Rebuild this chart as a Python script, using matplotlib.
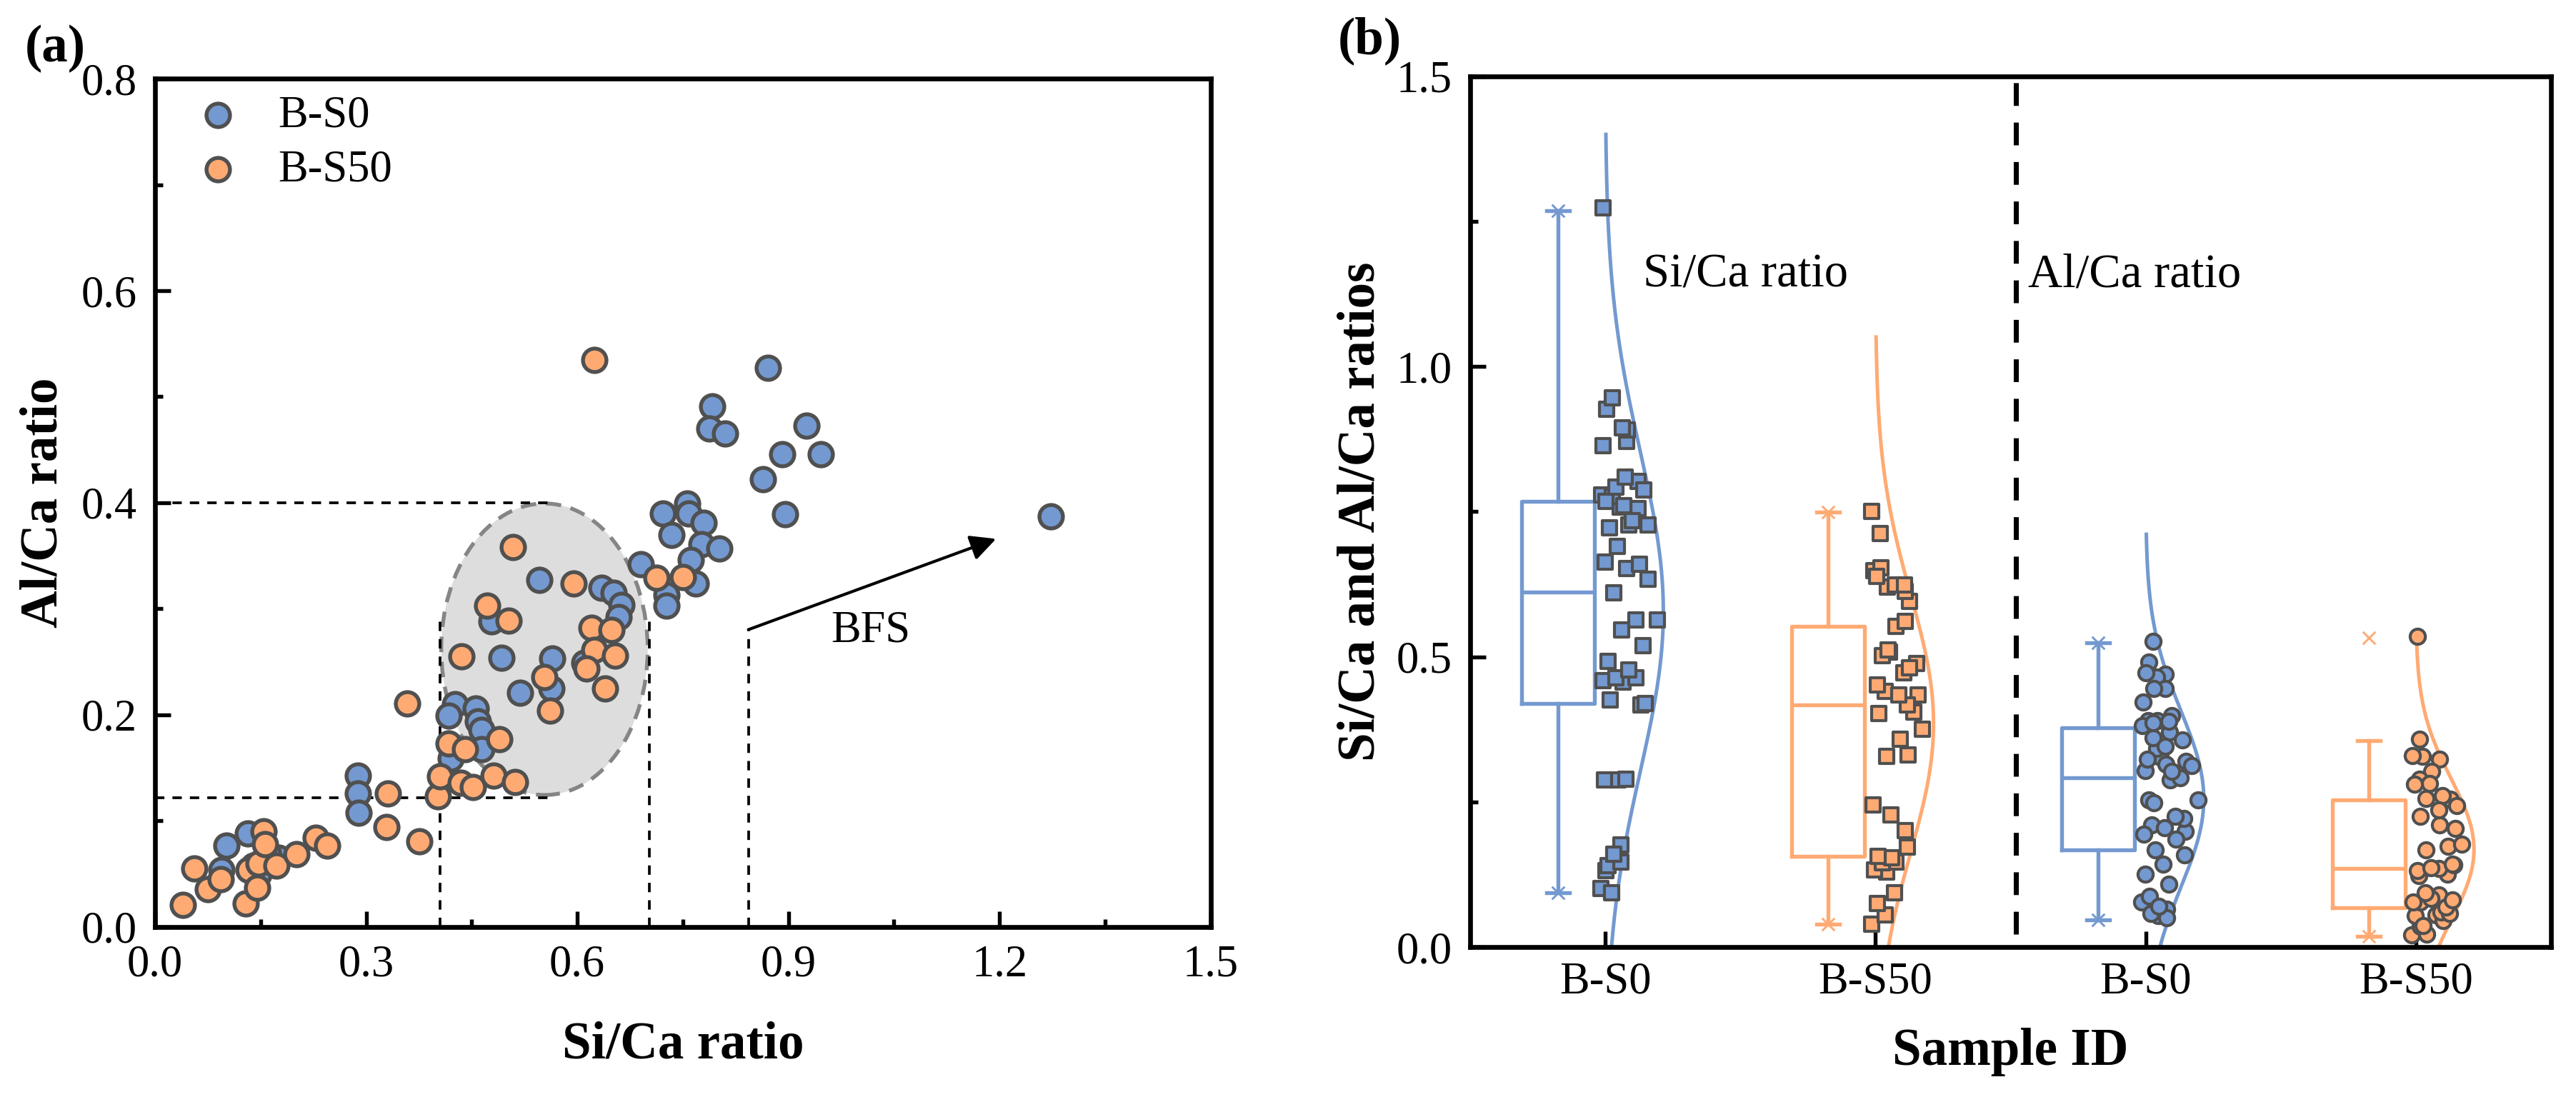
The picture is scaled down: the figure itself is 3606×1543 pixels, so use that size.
import numpy as np
import matplotlib
matplotlib.use("Agg")
import matplotlib.pyplot as plt
from matplotlib.patches import Ellipse
from matplotlib.ticker import MultipleLocator

# ============================================================
# DATA
# ============================================================

# B-S0 : Si/Ca and Al/Ca ratios of each point
bs0_si = [0.101, 0.094, 0.132, 0.176, 0.288, 0.288, 0.289, 0.140, 0.147, 0.160,
          0.426, 0.417, 0.456, 0.459, 0.464, 0.464, 0.420,
          0.478, 0.492, 0.519, 0.546, 0.564, 0.563, 0.610, 0.634, 0.652, 0.663, 0.659, 0.690,
          0.727, 0.727, 0.722, 0.756, 0.758, 0.779, 0.734, 0.776, 0.802, 0.761, 0.768,
          0.871, 0.792, 0.788, 0.810, 0.926, 0.891, 0.946, 0.864, 0.895, 1.273]
bs0_al = [0.077, 0.054, 0.088, 0.065, 0.143, 0.126, 0.108, 0.058, 0.050, 0.070,
          0.210, 0.199, 0.206, 0.194, 0.186, 0.168, 0.159,
          0.288, 0.254, 0.221, 0.327, 0.253, 0.225, 0.249, 0.320, 0.315, 0.304, 0.292, 0.342,
          0.313, 0.303, 0.390, 0.399, 0.390, 0.381, 0.370, 0.361, 0.357, 0.346, 0.324,
          0.527, 0.491, 0.470, 0.465, 0.473, 0.446, 0.446, 0.422, 0.389, 0.387]

# B-S50
bs50_si = [0.039, 0.056, 0.075, 0.093, 0.129, 0.133, 0.147, 0.145, 0.172, 0.154, 0.156, 0.201, 0.228, 0.245,
           0.331, 0.329, 0.375, 0.358, 0.402, 0.405,
           0.508, 0.595, 0.472, 0.502, 0.435, 0.620, 0.649, 0.624, 0.654, 0.613, 0.553, 0.639, 0.561,
           0.712, 0.750, 0.417, 0.440, 0.489, 0.434, 0.452, 0.481, 0.512, 0.624]
bs50_al = [0.021, 0.055, 0.036, 0.045, 0.022, 0.054, 0.060, 0.037, 0.058, 0.090, 0.078, 0.069, 0.084, 0.077,
           0.126, 0.094, 0.081, 0.211, 0.123, 0.142,
           0.358, 0.324, 0.303, 0.289, 0.255, 0.282, 0.280, 0.261, 0.256, 0.244, 0.236, 0.225, 0.204,
           0.329, 0.330, 0.173, 0.168, 0.177, 0.136, 0.132, 0.143, 0.137, 0.535]

# panel (b) groups: Si B-S0, Si B-S50, Al B-S0, Al B-S50
group_ticks = [1, 2, 3, 4]
tick_labels = ["B-S0", "B-S50", "B-S0", "B-S50"]
box_q1 = [0.420, 0.156, 0.168, 0.068]
box_med = [0.612, 0.417, 0.292, 0.136]
box_q3 = [0.768, 0.552, 0.378, 0.254]
whisk_lo = [0.094, 0.039, 0.047, 0.019]
whisk_hi = [1.268, 0.749, 0.524, 0.356]
data_min = [0.094, 0.039, 0.047, 0.019]
data_max = [1.268, 0.749, 0.524, 0.533]
# normal distribution curve parameters
dist_mean = [0.578, 0.385, 0.255, 0.168]
dist_sd = [0.274, 0.222, 0.152, 0.122]

# ============================================================
# STYLE
# ============================================================

plt.rcParams["font.family"] = ["Liberation Serif", "DejaVu Serif"]
plt.rcParams["mathtext.fontset"] = "stix"

BLUE = "#7399d0"
ORANGE = "#ffaa73"
EDGE = "#505050"

TICK_FS = 15
LABEL_FS = 17.5

fig = plt.figure(figsize=(3606 / 300, 1543 / 300), dpi=300)

ax1 = fig.add_axes([0.0602, 0.1588, 0.4098, 0.7699])
ax2 = fig.add_axes([0.5707, 0.1406, 0.4196, 0.7901])


def style_axes(ax):
    for s in ax.spines.values():
        s.set_linewidth(1.6)
    ax.tick_params(which="both", direction="in", width=1.3, labelsize=TICK_FS,
                   top=False, right=False, pad=6)
    ax.tick_params(which="major", length=5.2)
    ax.tick_params(which="minor", length=2.6)


# ============================================================
# PANEL (a)
# ============================================================

style_axes(ax1)
ax1.set_xlim(0, 1.5)
ax1.set_ylim(0, 0.8)
ax1.xaxis.set_major_locator(MultipleLocator(0.3))
ax1.xaxis.set_minor_locator(MultipleLocator(0.15))
ax1.yaxis.set_major_locator(MultipleLocator(0.2))
ax1.yaxis.set_minor_locator(MultipleLocator(0.1))
ax1.xaxis.set_major_formatter(matplotlib.ticker.FormatStrFormatter("%.1f"))
ax1.yaxis.set_major_formatter(matplotlib.ticker.FormatStrFormatter("%.1f"))

ell = Ellipse((0.5533, 0.2619), 0.2934, 0.2749, facecolor="#dddddd",
              edgecolor="#858585", lw=1.3, linestyle=(0, (4, 2.5)), zorder=1)
ax1.add_patch(ell)

dash = (0, (3.5, 3))
ax1.plot([0, 0.559], [0.4, 0.4], color="k", lw=0.9, ls=dash, zorder=2)
ax1.plot([0, 0.559], [0.122, 0.122], color="k", lw=0.9, ls=dash, zorder=2)
ax1.plot([0.405, 0.405], [0, 0.294], color="k", lw=0.9, ls=dash, zorder=2)
ax1.plot([0.702, 0.702], [0, 0.292], color="k", lw=0.9, ls=dash, zorder=2)
ax1.plot([0.843, 0.843], [0, 0.2804], color="k", lw=0.9, ls=dash, zorder=2)

ax1.annotate("", xy=(1.195, 0.366), xytext=(0.843, 0.2804),
             arrowprops=dict(arrowstyle="-|>", color="k", lw=1.0,
                             mutation_scale=18, shrinkA=0, shrinkB=0), zorder=3)
ax1.text(1.017, 0.279, "BFS", ha="center", va="center", fontsize=TICK_FS)

ax1.scatter(bs0_si, bs0_al, s=62, c=BLUE, edgecolors=EDGE, linewidths=1.3,
            label="B-S0", zorder=4)
ax1.scatter(bs50_si, bs50_al, s=62, c=ORANGE, edgecolors=EDGE, linewidths=1.3,
            label="B-S50", zorder=5)

ax1.legend(loc="upper left", bbox_to_anchor=(0.0, 1.028), frameon=False,
           fontsize=TICK_FS, handlelength=1.0, handletextpad=0.85,
           labelspacing=0.3, borderaxespad=0.5, scatterpoints=1)

ax1.set_xlabel("Si/Ca ratio", fontsize=LABEL_FS, fontweight="bold")
ax1.set_ylabel("Al/Ca ratio", fontsize=LABEL_FS, fontweight="bold")
ax1.xaxis.set_label_coords(0.5, -0.139)
ax1.xaxis.label.set_va("center")
ax1.yaxis.set_label_coords(-0.105, 0.5)
ax1.yaxis.label.set_va("center")

fig.text(0.0097, 0.956, "(a)", fontsize=LABEL_FS, fontweight="bold",
         ha="left", va="center")

# ============================================================
# PANEL (b)
# ============================================================

style_axes(ax2)
ax2.set_xlim(0.5, 4.5)
ax2.set_ylim(0, 1.5)
ax2.set_xticks(group_ticks)
ax2.set_xticklabels(tick_labels)
ax2.yaxis.set_major_locator(MultipleLocator(0.5))
ax2.yaxis.set_minor_locator(MultipleLocator(0.25))
ax2.yaxis.set_major_formatter(matplotlib.ticker.FormatStrFormatter("%.1f"))
ax2.tick_params(axis="x", pad=5)

ax2.axvline(2.52, color="k", lw=1.7, ls=(0, (4.5, 3.3)), ymin=0.015, ymax=1.0)

group_colors = [BLUE, ORANGE, BLUE, ORANGE]
group_vals = [bs0_si, bs50_si, bs0_al, bs50_al]
group_marker = ["s", "s", "o", "o"]
box_offset = -0.175
peak_w = 0.215

for i in range(4):
    c = group_colors[i]
    tick = group_ticks[i]
    m, sd = dist_mean[i], dist_sd[i]

    # distribution curve
    yy = np.linspace(m - 3 * sd, m + 3 * sd, 300)
    ww = peak_w * np.exp(-0.5 * ((yy - m) / sd) ** 2)
    ax2.plot(tick + ww, yy, color=c, lw=1.2, zorder=2)

    # box
    stats = [dict(med=box_med[i], q1=box_q1[i], q3=box_q3[i],
                  whislo=whisk_lo[i], whishi=whisk_hi[i], fliers=[])]
    lp = dict(color=c, lw=1.3)
    ax2.bxp(stats, positions=[tick + box_offset], widths=0.27, capwidths=0.085,
            showfliers=False, boxprops=lp, whiskerprops=lp, capprops=lp,
            medianprops=lp, manage_ticks=False)
    ax2.scatter([tick + box_offset] * 2, [data_min[i], data_max[i]], marker="x",
                s=18, color=c, linewidths=0.7, zorder=3)

    # jittered points inside the distribution curve
    vals = np.array(group_vals[i])
    u = (np.arange(len(vals)) * 0.6180339887) % 1.0
    w_at = peak_w * np.exp(-0.5 * ((vals - m) / sd) ** 2)
    xs = tick - 0.015 + u * (0.02 + 0.9 * w_at)
    ms = 22 if group_marker[i] == "s" else 26
    ax2.scatter(xs, vals, marker=group_marker[i], s=ms, c=c, edgecolors=EDGE,
                linewidths=1.0, zorder=4)

ax2.text(1.52, 1.158, "Si/Ca ratio", ha="center", va="center", fontsize=16)
ax2.text(2.96, 1.158, "Al/Ca ratio", ha="center", va="center", fontsize=16)

ax2.set_xlabel("Sample ID", fontsize=LABEL_FS, fontweight="bold")
ax2.set_ylabel("Si/Ca and Al/Ca ratios", fontsize=LABEL_FS, fontweight="bold")
ax2.xaxis.set_label_coords(0.5, -0.1206)
ax2.xaxis.label.set_va("center")
ax2.yaxis.set_label_coords(-0.101, 0.5)
ax2.yaxis.label.set_va("center")

fig.text(0.5193, 0.963, "(b)", fontsize=LABEL_FS, fontweight="bold",
         ha="left", va="center")

fig.savefig("out.png", dpi=300)
